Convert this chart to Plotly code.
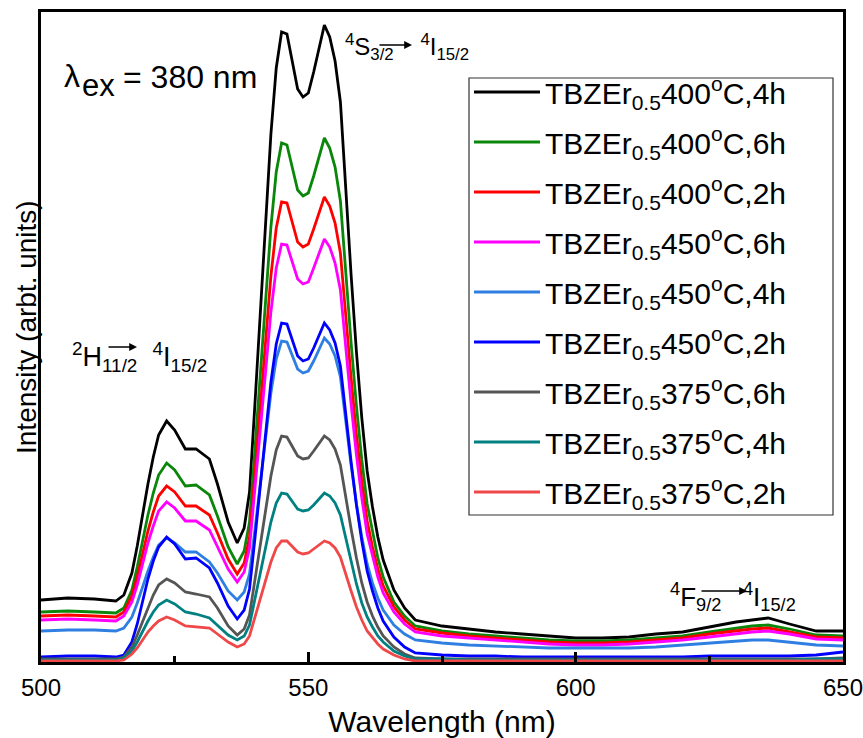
import plotly.graph_objects as go

wavelength = [500, 505, 510, 514, 515.5, 517, 518, 519, 520, 521, 522, 523.5, 525, 527, 529, 531.5,
              533, 535, 536.7, 538, 539, 540, 541, 542, 543, 544, 545, 546, 547, 548, 549, 550, 551,
              552, 553, 554, 555, 556, 557, 558, 559, 560, 561, 562, 563, 564, 566, 568, 570, 575,
              580, 585, 590, 595, 600, 605, 610, 615, 620, 625, 630, 633, 636, 640, 645, 650]

s400_4h = [62, 64, 63, 61, 67, 89, 116, 148, 178, 205, 227, 241, 232, 213, 213, 203,
           178, 140, 119, 134, 170, 257, 344, 436, 528, 594, 630, 628, 601, 573, 565, 569, 590,
           614, 637, 625, 601, 560, 470, 387, 310, 244, 191, 155, 125, 102, 72, 54, 42, 36,
           33, 30, 28, 26, 24, 24, 25, 28, 30, 35, 40, 42, 44, 38, 31, 31]
s400_6h = [50, 51, 50, 49, 54, 72, 95, 122, 147, 169, 187, 199, 192, 176, 177, 167,
           146, 115, 98, 111, 140, 212, 283, 359, 435, 490, 519, 517, 495, 472, 466, 469, 486,
           505, 524, 514, 495, 461, 387, 319, 256, 202, 158, 129, 104, 85, 60, 46, 36, 31,
           28, 26, 24, 22, 21, 21, 22, 24, 26, 30, 34, 36, 37, 33, 27, 26]
s400_2h = [46, 47, 46, 45, 50, 66, 85, 108, 131, 150, 166, 176, 170, 156, 156, 147,
           129, 103, 88, 99, 125, 188, 252, 319, 386, 434, 460, 459, 440, 420, 415, 418, 433,
           449, 465, 456, 439, 409, 344, 284, 227, 180, 141, 115, 93, 76, 55, 42, 33, 29,
           26, 24, 22, 20, 19, 19, 20, 22, 24, 28, 31, 33, 34, 30, 25, 24]
s450_6h = [42, 43, 42, 41, 46, 60, 77, 99, 119, 136, 151, 160, 154, 141, 141, 132,
           116, 93, 80, 90, 114, 171, 229, 290, 350, 394, 418, 417, 400, 383, 378, 380, 394,
           409, 423, 415, 399, 372, 313, 258, 207, 164, 128, 105, 85, 69, 50, 38, 30, 26,
           24, 22, 20, 18, 17, 17, 18, 20, 22, 25, 28, 30, 31, 28, 23, 22]
s450_4h = [31, 32, 32, 31, 34, 45, 59, 76, 91, 105, 117, 124, 119, 110, 110, 100,
           89, 71, 62, 70, 88, 132, 176, 223, 269, 303, 321, 320, 307, 293, 289, 291, 301,
           313, 324, 318, 306, 285, 239, 197, 158, 125, 98, 79, 64, 52, 37, 28, 22, 19,
           17, 16, 15, 14, 14, 14, 14, 15, 17, 19, 21, 22, 22, 20, 17, 16]
s450_2h = [5, 6, 6, 5, 7, 20, 38, 60, 83, 101, 115, 125, 118, 103, 104, 94,
           79, 56, 43, 52, 73, 123, 173, 227, 280, 318, 339, 338, 322, 306, 301, 303, 314,
           327, 339, 332, 319, 296, 246, 200, 157, 121, 91, 71, 54, 41, 25, 15, 9, 7,
           6, 6, 5, 5, 5, 5, 5, 5, 5, 6, 6, 6, 6, 6, 7, 10]
s375_6h = [3, 3, 3, 3, 5, 15, 27, 41, 55, 67, 77, 83, 79, 70, 68, 65,
           54, 36, 27, 33, 47, 81, 115, 150, 186, 212, 226, 225, 216, 206, 203, 204, 211,
           219, 226, 222, 213, 197, 164, 133, 104, 79, 60, 46, 35, 26, 15, 8, 4, 3,
           3, 3, 3, 3, 3, 3, 3, 3, 3, 3, 3, 3, 3, 3, 3, 4]
s375_4h = [2, 2, 2, 2, 4, 11, 20, 31, 41, 50, 57, 62, 58, 50, 48, 44,
           37, 27, 22, 26, 37, 62, 87, 113, 140, 159, 169, 168, 161, 153, 151, 152, 157,
           163, 169, 166, 159, 147, 123, 99, 78, 59, 45, 35, 26, 20, 11, 6, 3, 3,
           2, 2, 2, 2, 2, 2, 2, 2, 2, 2, 2, 2, 2, 2, 3, 3]
s375_2h = [1, 1, 1, 1, 2, 8, 14, 22, 30, 36, 41, 45, 42, 36, 35, 34,
           28, 20, 15, 18, 26, 44, 62, 81, 100, 114, 121, 121, 115, 110, 108, 109, 113,
           117, 121, 119, 114, 105, 87, 71, 55, 42, 31, 24, 18, 13, 7, 3, 1, 1,
           1, 1, 1, 1, 1, 1, 1, 1, 1, 1, 1, 1, 1, 1, 1, 1]

series = [
    ("TBZEr<sub>0.5</sub>400<sup>o</sup>C,4h", s400_4h, "#000000"),
    ("TBZEr<sub>0.5</sub>400<sup>o</sup>C,6h", s400_6h, "#0a870a"),
    ("TBZEr<sub>0.5</sub>400<sup>o</sup>C,2h", s400_2h, "#ff0000"),
    ("TBZEr<sub>0.5</sub>450<sup>o</sup>C,6h", s450_6h, "#ff00ff"),
    ("TBZEr<sub>0.5</sub>450<sup>o</sup>C,4h", s450_4h, "#2f7fe3"),
    ("TBZEr<sub>0.5</sub>450<sup>o</sup>C,2h", s450_2h, "#0000ff"),
    ("TBZEr<sub>0.5</sub>375<sup>o</sup>C,6h", s375_6h, "#555555"),
    ("TBZEr<sub>0.5</sub>375<sup>o</sup>C,4h", s375_4h, "#008080"),
    ("TBZEr<sub>0.5</sub>375<sup>o</sup>C,2h", s375_2h, "#f04848"),
]

FONT = "Arial, Liberation Sans, sans-serif"

fig = go.Figure()
for i, (name, vals, color) in enumerate(series):
    fig.add_trace(go.Scatter(
        x=wavelength, y=vals, name=name, mode="lines",
        line=dict(color=color, width=2.8),
        legendgroup=f"g{i}",
    ))

def px_x(px):
    return (px - 41) / 802.0

def px_y(py):
    return (662 - py) / 650.0

fig.update_layout(
    width=863, height=738,
    margin=dict(l=41, r=20, t=12, b=76, autoexpand=False),
    paper_bgcolor="white", plot_bgcolor="white",
    font=dict(family=FONT, color="black"),
    showlegend=True,
    legend=dict(
        x=px_x(469), y=px_y(66), xanchor="left", yanchor="top",
        borderwidth=0,
        font=dict(size=30, family=FONT, color="black"),
        itemwidth=66, tracegroupgap=8,
        bgcolor="rgba(255,255,255,0)",
    ),
    xaxis=dict(
        range=[500, 650], tick0=500, dtick=50,
        ticks="inside", ticklen=10, tickwidth=3, tickcolor="black",
        minor=dict(dtick=25, ticks="inside", ticklen=6, tickwidth=3, tickcolor="black", showgrid=False),
        showline=True, linewidth=3, linecolor="black", mirror=True,
        showgrid=False, zeroline=False, automargin=False,
        ticklabeloverflow="allow", ticklabelstandoff=2,
        tickfont=dict(size=24, family=FONT, color="black"),
        title=dict(text="Wavelength (nm)", font=dict(size=30, family=FONT, color="black"), standoff=21),
    ),
    yaxis=dict(
        range=[0, 650],
        showticklabels=False, ticks="",
        showline=True, linewidth=3, linecolor="black", mirror=True,
        showgrid=False, zeroline=False, automargin=False,
    ),
)

# legend frame
fig.add_shape(type="rect", xref="paper", yref="paper",
              x0=px_x(469), x1=px_x(833), y0=px_y(515), y1=px_y(78),
              line=dict(color="#333333", width=1.2), fillcolor="rgba(0,0,0,0)")

# y-axis title
fig.add_annotation(text="Intensity (arbt. units)", x=px_x(26), y=px_y(327),
                   xref="paper", yref="paper", xanchor="center", yanchor="middle",
                   textangle=-90, showarrow=False,
                   font=dict(size=28, family=FONT, color="black"))

annots = [
    dict(text="λ", x=px_x(62), y=px_y(76), size=32),
    dict(text="ex", x=px_x(80), y=px_y(86), size=31),
    dict(text="= 380 nm", x=px_x(121), y=px_y(77), size=32),
    dict(text="<sup>2</sup>H<sub>11/2</sub>  <sup>4</sup>I<sub>15/2</sub>", x=px_x(70), y=px_y(357), size=27),
    dict(text="<sup>4</sup>S<sub>3/2</sub>    <sup>4</sup>I<sub>15/2</sub>", x=px_x(343), y=px_y(47), size=24),
    dict(text="<sup>4</sup>F<sub>9/2</sub>   <sup>4</sup>I<sub>15/2</sub>", x=px_x(668), y=px_y(597), size=26),
]
for a in annots:
    fig.add_annotation(text=a["text"], x=a["x"], y=a["y"], xref="paper", yref="paper",
                       xanchor="left", yanchor="middle", showarrow=False,
                       font=dict(size=a["size"], family=FONT, color="black"))

arrows = [
    (107, 347, 137, 347),
    (378, 45, 412, 45),
    (700, 591, 747, 591),
]
for x0, y0, x1, y1 in arrows:
    fig.add_annotation(x=px_x(x1), y=px_y(y1), ax=px_x(x0), ay=px_y(y0),
                       xref="x domain", yref="y domain", axref="x domain", ayref="y domain",
                       text="", showarrow=True, arrowhead=2, arrowsize=1.2, arrowwidth=1.3,
                       arrowcolor="black")

fig.write_html("out.html")
